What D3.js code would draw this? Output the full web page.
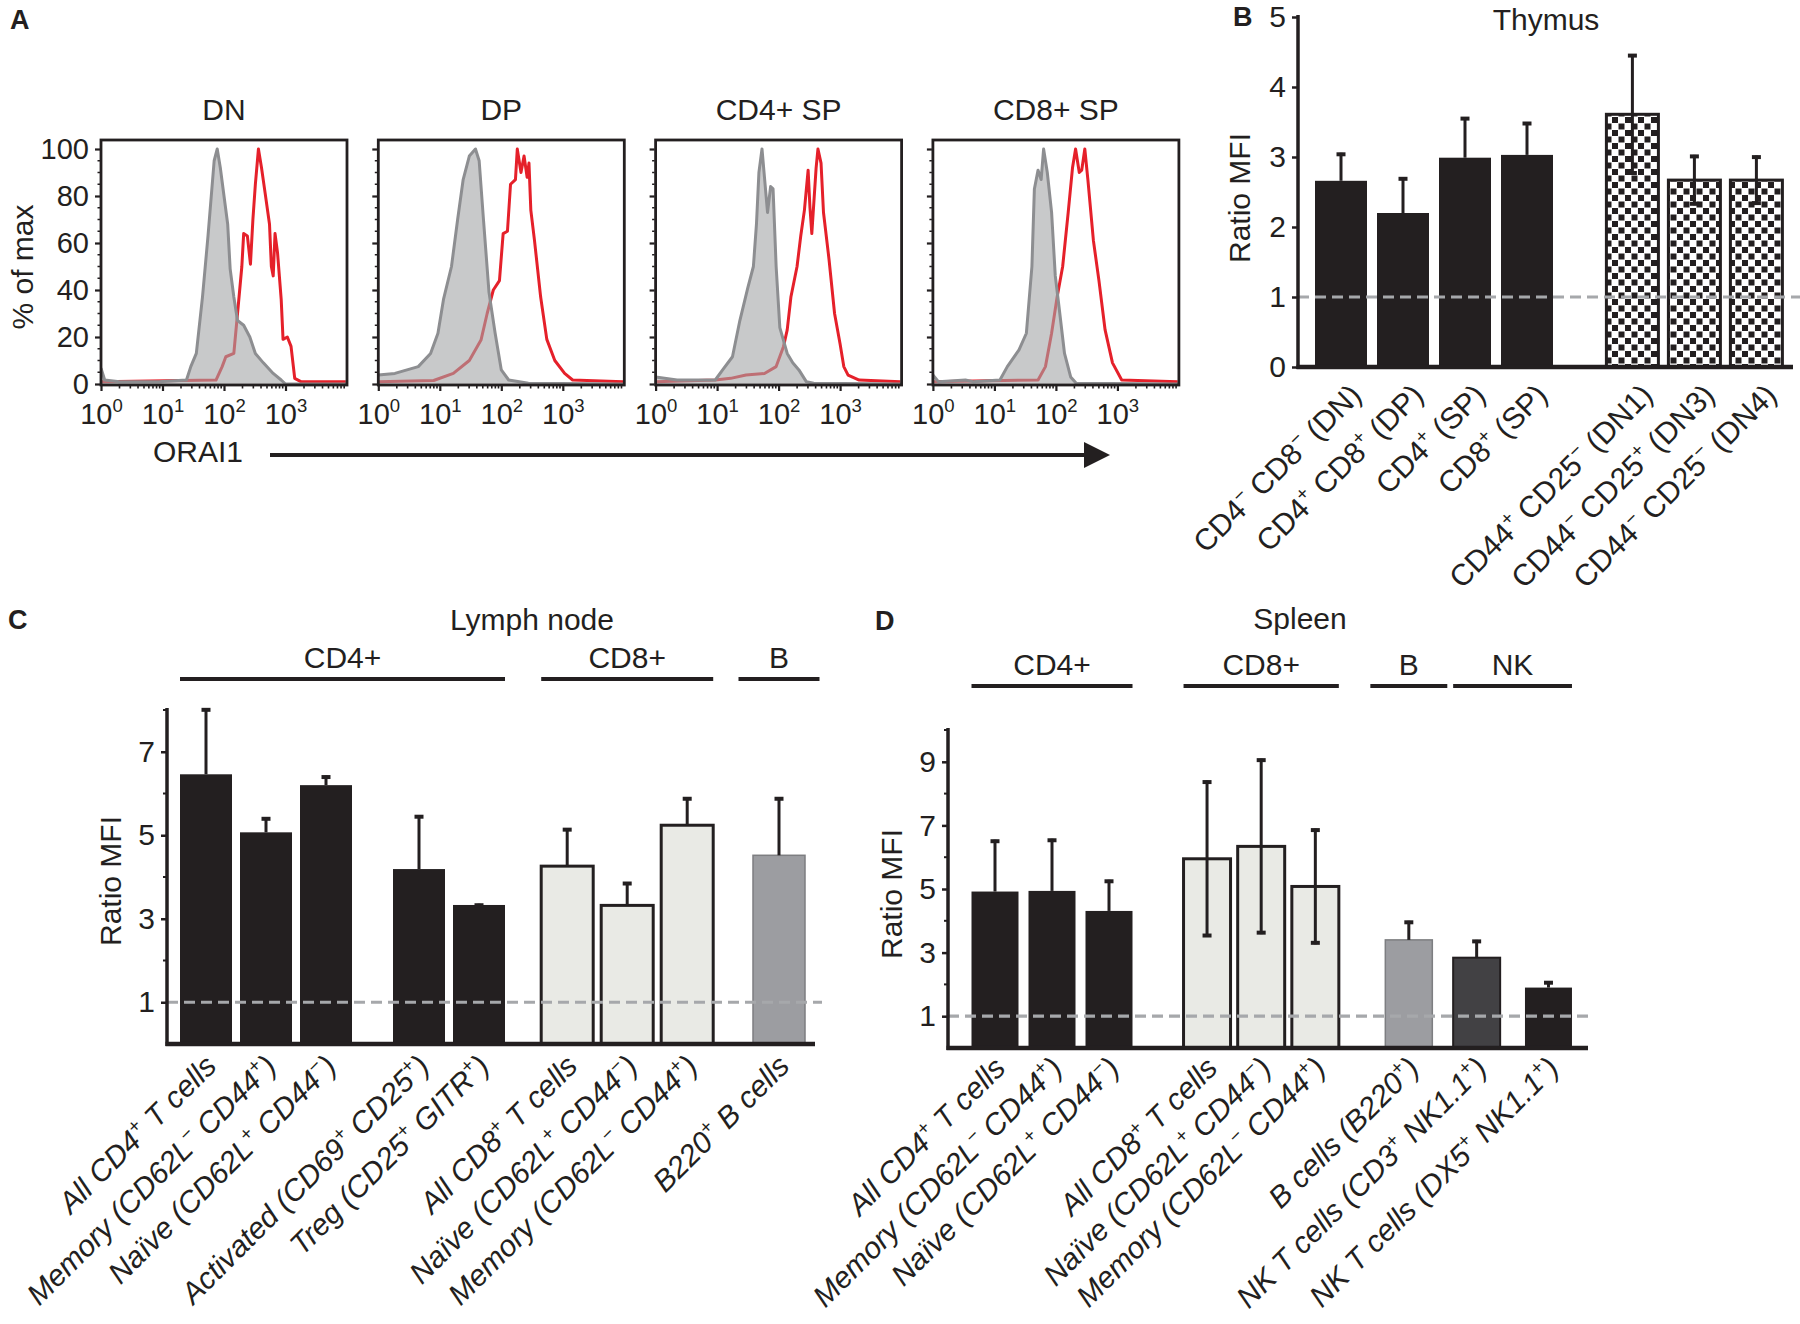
<!DOCTYPE html>
<html><head><meta charset="utf-8">
<script src="https://cdn.jsdelivr.net/npm/d3@7"></script>
<style>
body{margin:0;background:#fff}
svg{display:block;background:#fff}
text{font-family:"Liberation Sans",Arial,Helvetica,sans-serif;fill:#231f20}
</style></head>
<body><svg id="fig" width="1800" height="1324"></svg>
<script>
// ---------------- DATA ----------------
// Panel A: histograms, points = [log10(ORAI1 intensity), % of max]
const histPanels = ["DN", "DP", "CD4+ SP", "CD8+ SP"];
const histYTicks = [0, 20, 40, 60, 80, 100];
const histXTickVals = [1, 10, 100, 1000];
const histXTickLabels = ["10⁰", "10¹", "10²", "10³"];
const isoDN = [[0,6.7],[0.06,1.7],[0.3,1],[0.94,1],[1.39,1.7],[1.46,7.4],[1.55,13],[1.65,37],[1.74,63],[1.84,95],[1.89,100],[1.94,92],[2.0,80],[2.06,68],[2.1,49],[2.16,37],[2.22,27],[2.32,25],[2.42,20],[2.51,13],[2.64,9],[2.8,4.5],[2.93,1.7],[3.0,0],[4,0]];
const orDN = [[0,1],[1.87,1.7],[1.97,7.4],[2.03,11.6],[2.16,13],[2.22,30],[2.29,50],[2.32,64],[2.38,63],[2.43,51],[2.47,70],[2.51,85],[2.56,100],[2.61,92],[2.67,81],[2.74,68],[2.77,50],[2.8,46],[2.83,64],[2.87,56],[2.93,36],[2.96,19],[3.03,20],[3.09,16],[3.15,2.4],[3.25,1],[3.98,1]];
const isoDP = [[0,3.8],[0.27,4.5],[0.65,7.4],[0.85,13],[0.97,21.6],[1.06,36],[1.19,50],[1.29,70],[1.38,87],[1.48,97],[1.58,100],[1.64,95],[1.71,70],[1.8,39],[1.9,21.6],[2.0,6],[2.12,1.7],[2.44,0.3],[4,0]];
const orDP = [[0,1],[0.9,1.5],[1.22,4.5],[1.48,10],[1.67,18.7],[1.77,30],[1.87,40],[1.97,44],[2.03,64],[2.1,65],[2.15,85],[2.23,87],[2.26,100],[2.32,90],[2.37,97],[2.42,88],[2.45,94],[2.48,74],[2.54,61],[2.64,37],[2.74,19],[2.87,10],[3.03,4.5],[3.16,1.7],[3.98,1]];
const isoCD4 = [[0,3],[0.35,1.7],[0.97,1.7],[1.09,6],[1.25,11.6],[1.37,27],[1.5,41],[1.59,50],[1.64,68],[1.68,90],[1.73,100],[1.77,88],[1.82,73],[1.87,84],[1.91,83],[1.96,50],[2.02,24],[2.14,13],[2.23,9],[2.33,6],[2.45,1],[2.57,0.3],[4,0]];
const orCD4 = [[0,1],[0.97,1.7],[1.22,2.4],[1.47,3.8],[1.77,4.5],[1.96,7.4],[2.08,16],[2.14,23],[2.2,37],[2.3,50],[2.36,63],[2.42,74],[2.48,91],[2.51,75],[2.54,64],[2.61,92],[2.64,100],[2.69,94],[2.73,73],[2.82,53],[2.91,30],[3.0,17],[3.06,7.4],[3.13,3.8],[3.31,1.7],[3.98,1]];
const isoCD8 = [[0,3.8],[0.09,1],[0.53,1.7],[0.65,1],[1.09,1.7],[1.21,7.4],[1.4,14.5],[1.52,21.6],[1.61,50],[1.65,83],[1.71,91],[1.76,87],[1.8,100],[1.86,90],[1.93,73],[1.99,46],[2.05,33],[2.14,13],[2.24,3],[2.33,0.3],[4,0]];
const orCD8 = [[0,1],[1.71,1.7],[1.83,7.4],[1.93,21.6],[2.02,37],[2.11,50],[2.2,73],[2.27,92],[2.32,100],[2.38,90],[2.42,91],[2.47,100],[2.52,87],[2.61,61],[2.7,44],[2.8,23],[2.92,9],[3.07,1.7],[3.98,1]];
const isoSeries = [isoDN, isoDP, isoCD4, isoCD8];
const orSeries = [orDN, orDP, orCD4, orCD8];

// Panel B: thymus
const thyCats = ["CD4⁻ CD8⁻ (DN)", "CD4⁺ CD8⁺ (DP)", "CD4⁺ (SP)", "CD8⁺ (SP)", "CD44⁺ CD25⁻ (DN1)", "CD44⁻ CD25⁺ (DN3)", "CD44⁻ CD25⁻ (DN4)"];
const thyVals = [2.66, 2.2, 2.99, 3.03, 3.61, 2.67, 2.67];
const thyErr = [0.40, 0.51, 0.58, 0.47, 0.86, 0.36, 0.35];
const thyType = ["black","black","black","black","checker","checker","checker"];
const thyCluster = [0,0,0,0,1,1,1];
const thyTicks = [0,1,2,3,4,5];

// Panel C: lymph node
const lnCats = ["All CD4⁺ T cells", "Memory (CD62L⁻ CD44⁺)", "Naïve (CD62L⁺ CD44⁻)", "Activated (CD69⁺ CD25⁺)", "Treg (CD25⁺ GITR⁺)", "All CD8⁺ T cells", "Naïve (CD62L⁺ CD44⁻)", "Memory (CD62L⁻ CD44⁺)", "B220⁺ B cells"];
const lnVals = [6.46, 5.07, 6.2, 4.19, 3.33, 4.26, 3.32, 5.24, 4.52];
const lnErr = [1.58, 0.36, 0.23, 1.29, 0.03, 0.91, 0.56, 0.67, 1.39];
const lnType = ["black","black","black","black","black","light","light","light","gray"];
const lnCluster = [0,0,0,1,1,2,2,2,3];
const lnGroups = ["CD4+", "CD8+", "B"];
const lnGroupOf = [0,0,0,0,0,1,1,1,2];
const lnTicks = [1,3,5,7];
const lnMinor = [2,4,6,8];

// Panel D: spleen
const spCats = ["All CD4⁺ T cells", "Memory (CD62L⁻ CD44⁺)", "Naïve (CD62L⁺ CD44⁻)", "All CD8⁺ T cells", "Naïve (CD62L⁺ CD44⁻)", "Memory (CD62L⁻ CD44⁺)", "B cells (B220⁺)", "NK T cells (CD3⁺ NK1.1⁺)", "NK T cells (DX5⁺ NK1.1⁺)"];
const spVals = [4.92, 4.94, 4.31, 5.95, 6.34, 5.08, 3.4, 2.84, 1.9];
const spErr = [1.63, 1.64, 0.98, 2.46, 2.76, 1.82, 0.6, 0.56, 0.2];
const spType = ["black","black","black","light","light","light","gray","dark","black"];
const spCluster = [0,0,0,1,1,1,2,3,3];
const spGroups = ["CD4+", "CD8+", "B", "NK"];
const spGroupOf = [0,0,0,1,1,1,2,3,3];
const spTicks = [1,3,5,7,9];
const spMinor = [2,4,6,8,10];

// ---------------- HELPERS ----------------
const svg = d3.select("#fig");
const INK = "#231f20";
const FONT = 30;

function richText(sel, str, fs) {
  const sup = {"⁺":"+","⁻":"−","⁰":"0","¹":"1","²":"2","³":"3"};
  const parts = []; let cur = ""; let curSup = null;
  for (const ch of str) {
    const s = ch in sup;
    if (curSup !== null && s !== curSup && cur) { parts.push([cur, curSup]); cur = ""; }
    curSup = s; cur += s ? sup[ch] : ch;
  }
  if (cur) parts.push([cur, curSup]);
  let raised = false;
  const shift = fs * 0.4;
  parts.forEach(([t, s]) => {
    const ts = sel.append("tspan").text(t);
    if (s) { ts.attr("font-size", fs * 0.64); if (!raised) ts.attr("dy", -shift); raised = true; }
    else if (raised) { ts.attr("dy", shift); raised = false; }
  });
}

const defs = svg.append("defs");
const CELL = 6.5;
const pat = defs.append("pattern").attr("id","checker").attr("patternUnits","userSpaceOnUse")
  .attr("width",CELL*2).attr("height",CELL*2);
pat.append("rect").attr("width",CELL*2).attr("height",CELL*2).attr("fill","#fff");
pat.append("rect").attr("width",CELL-0.5).attr("height",CELL-0.5).attr("fill",INK);
pat.append("rect").attr("x",CELL).attr("y",CELL).attr("width",CELL-0.5).attr("height",CELL-0.5).attr("fill",INK);

function letter(t, x, y) {
  svg.append("text").attr("x",x).attr("y",y).attr("font-size",27).attr("font-weight","bold").text(t);
}

// ---------------- PANEL A ----------------
letter("A", 10, 29);
const boxW = 246, boxStep = 277.3, boxLeft0 = 101, boxTop = 140, boxBottom = 385;
const yH = d3.scaleLinear().domain([0, 100]).range([384, 149]);
histPanels.forEach((name, i) => {
  const x0 = boxLeft0 + i * boxStep;
  const xS = d3.scaleLog().domain([1, 1e4]).range([x0, x0 + boxW]);
  const g = svg.append("g");
  const clipId = "clip" + i;
  defs.append("clipPath").attr("id", clipId).append("rect")
    .attr("x", x0).attr("y", boxTop).attr("width", boxW).attr("height", boxBottom - boxTop);
  const inner = g.append("g").attr("clip-path", `url(#${clipId})`);
  inner.append("path").datum(orSeries[i])
    .attr("d", d3.line().x(d => xS(Math.pow(10, d[0]))).y(d => yH(d[1])))
    .attr("fill","none").attr("stroke","#e5202a").attr("stroke-width",3).attr("stroke-linejoin","round");
  inner.append("path").datum(isoSeries[i])
    .attr("d", d3.area().x(d => xS(Math.pow(10, d[0]))).y0(yH(0)).y1(d => yH(d[1])))
    .attr("fill","#a3a5a7").attr("fill-opacity",0.6);
  inner.append("path").datum(isoSeries[i])
    .attr("d", d3.line().x(d => xS(Math.pow(10, d[0]))).y(d => yH(d[1])))
    .attr("fill","none").attr("stroke","#8d8e91").attr("stroke-width",3).attr("stroke-linejoin","round");
  g.append("rect").attr("x", x0).attr("y", boxTop).attr("width", boxW).attr("height", boxBottom - boxTop)
    .attr("fill","none").attr("stroke",INK).attr("stroke-width",2.8);
  g.append("text").attr("x", x0 + boxW / 2).attr("y", 120).attr("text-anchor","middle")
    .attr("font-size", FONT).text(name);
  const ya = g.append("g").attr("transform", `translate(${x0 - 1},0)`)
    .call(d3.axisLeft(yH).tickValues(histYTicks).tickSize(5).tickPadding(6)
      .tickFormat(i === 0 ? d3.format("d") : () => ""));
  ya.select(".domain").remove();
  ya.selectAll(".tick line").attr("stroke",INK).attr("stroke-width",2.2);
  ya.selectAll(".tick text").attr("font-size",29).attr("font-family",null).attr("fill",INK);
  const minorY = d3.range(5, 100, 5).filter(v => v % 20 !== 0);
  g.selectAll(null).data(minorY).join("line")
    .attr("x1", x0 - 3.5).attr("x2", x0 - 1).attr("y1", d => yH(d)).attr("y2", d => yH(d))
    .attr("stroke",INK).attr("stroke-width",1.5);
  const xa = g.append("g").attr("transform", `translate(0,${boxBottom})`)
    .call(d3.axisBottom(xS).tickValues(histXTickVals).tickSize(6).tickFormat((d, k) => histXTickLabels[k]));
  xa.select(".domain").remove();
  xa.selectAll(".tick line").attr("stroke",INK).attr("stroke-width",2.2);
  xa.selectAll(".tick text").each(function() {
    const t = d3.select(this); const s = t.text(); t.text("");
    t.attr("dy", null).attr("y", 39).attr("font-size", 29).attr("font-family",null).attr("fill",INK);
    richText(t, s, 29);
  });
  const minorX = [];
  [1, 10, 100, 1000].forEach(dec => { for (let m = 2; m <= 9; m++) minorX.push(dec * m); });
  g.selectAll(null).data(minorX).join("line")
    .attr("x1", d => xS(d)).attr("x2", d => xS(d)).attr("y1", boxBottom).attr("y2", boxBottom + 3.5)
    .attr("stroke",INK).attr("stroke-width",1.6);
});
svg.append("text").attr("transform","translate(33,267) rotate(-90)").attr("text-anchor","middle")
  .attr("font-size",FONT).text("% of max");
svg.append("text").attr("x",198).attr("y",462).attr("text-anchor","middle").attr("font-size",FONT).text("ORAI1");
svg.append("line").attr("x1",270).attr("x2",1090).attr("y1",455).attr("y2",455)
  .attr("stroke",INK).attr("stroke-width",4);
svg.append("path").attr("d","M1084,442 L1110,455 L1084,468 Z").attr("fill",INK);

// ---------------- BAR PANELS ----------------
const fills = {black: INK, light: "#e9eae5", gray: "#9c9da1", dark: "#424144", checker: "url(#checker)"};
const strokes = {black: "none", light: INK, gray: "#7d7e81", dark: INK, checker: INK};
const strokeW = {black: 0, light: 3, gray: 1.5, dark: 2, checker: 3};

// slot positions: bars within a cluster are `spread` slots apart, clusters separated by extra `gaps`
function slotPositions(cluster, gaps, spread) {
  const pos = []; let cur = 0;
  cluster.forEach((c, i) => {
    if (i > 0) cur += (c !== cluster[i - 1]) ? (1 + gaps[cluster[i - 1]]) : spread[c];
    pos.push(cur);
  });
  return pos;
}

function barPanel(p) {
  const g = svg.append("g");
  const y = d3.scaleLinear().domain(p.yDomain).range(p.yRange);
  const pos = slotPositions(p.cluster, p.gaps, p.spread);
  const x = d3.scaleLinear().domain([0, 1]).range([p.firstCenter, p.firstCenter + p.slot]);
  const axisY = p.yRange[0];

  g.selectAll("rect.bar").data(p.vals).join("rect").attr("class","bar")
    .attr("x", (d, i) => x(pos[i]) - p.barW / 2).attr("width", p.barW)
    .attr("y", d => y(d)).attr("height", d => axisY - y(d))
    .attr("fill", (d, i) => fills[p.types[i]])
    .attr("stroke", (d, i) => strokes[p.types[i]])
    .attr("stroke-width", (d, i) => strokeW[p.types[i]]);

  g.append("line").attr("x1", p.axisX).attr("x2", p.dashEnd).attr("y1", y(1)).attr("y2", y(1))
    .attr("stroke","#a6a8ab").attr("stroke-width",3.2).attr("stroke-dasharray","11,6");

  p.vals.forEach((v, i) => {
    const cx = x(pos[i]);
    const two = p.twoSided && (p.types[i] === "light" || p.types[i] === "checker");
    const top = y(v + p.errs[i]);
    const bot = two ? y(v - p.errs[i]) : y(v);
    g.append("line").attr("x1",cx).attr("x2",cx).attr("y1",top).attr("y2",bot)
      .attr("stroke",INK).attr("stroke-width",3);
    g.append("line").attr("x1",cx-4.5).attr("x2",cx+4.5).attr("y1",top+1.5).attr("y2",top+1.5)
      .attr("stroke",INK).attr("stroke-width",4);
    if (two) g.append("line").attr("x1",cx-4.5).attr("x2",cx+4.5).attr("y1",bot-1.5).attr("y2",bot-1.5)
      .attr("stroke",INK).attr("stroke-width",4);
  });

  g.append("line").attr("x1", p.axisX).attr("x2", p.axisX).attr("y1", axisY + 2).attr("y2", p.axisTop)
    .attr("stroke",INK).attr("stroke-width",3.5);
  g.append("line").attr("x1", p.axisX - 1.5).attr("x2", p.axisRight).attr("y1", axisY).attr("y2", axisY)
    .attr("stroke",INK).attr("stroke-width",4.5);
  const ya = g.append("g").attr("transform", `translate(${p.axisX},0)`)
    .call(d3.axisLeft(y).tickValues(p.ticks).tickSize(6).tickPadding(6).tickFormat(d3.format("d")));
  ya.select(".domain").remove();
  ya.selectAll(".tick line").attr("stroke",INK).attr("stroke-width",2.5);
  ya.selectAll(".tick text").attr("font-size",FONT).attr("font-family",null).attr("fill",INK);
  if (p.minor) g.selectAll(null).data(p.minor).join("line")
    .attr("x1", p.axisX - 4).attr("x2", p.axisX).attr("y1", d => y(d)).attr("y2", d => y(d))
    .attr("stroke",INK).attr("stroke-width",2);

  p.cats.forEach((c, i) => {
    const t = g.append("text")
      .attr("transform", `translate(${x(pos[i]) + p.ldx},${axisY + p.ldy}) rotate(-45)`)
      .attr("text-anchor","end").attr("font-size",FONT)
      .attr("font-style", p.italic ? "italic" : null);
    richText(t, c, FONT);
  });

  if (p.groups) {
    p.groups.forEach((name, gi) => {
      const idx = p.groupOf.map((v, i) => v === gi ? i : -1).filter(i => i >= 0);
      let l = x(pos[idx[0]]) - p.barW / 2, r = x(pos[idx[idx.length - 1]]) + p.barW / 2;
      const minW = p.slot * 1.35;
      if (r - l < minW) { const c = (l + r) / 2; l = c - minW / 2; r = c + minW / 2; }
      g.append("line").attr("x1", l).attr("x2", r).attr("y1", p.headerLineY).attr("y2", p.headerLineY)
        .attr("stroke",INK).attr("stroke-width",4);
      g.append("text").attr("x", (l + r) / 2).attr("y", p.headerY).attr("text-anchor","middle")
        .attr("font-size",FONT).text(name);
    });
  }
  g.append("text").attr("x", p.titleX).attr("y", p.titleY).attr("text-anchor","middle")
    .attr("font-size",FONT).text(p.title);
  g.append("text").attr("transform", `translate(${p.yTitleX},${p.yTitleY}) rotate(-90)`)
    .attr("text-anchor","middle").attr("font-size",FONT).text("Ratio MFI");
}

letter("B", 1233, 26);
barPanel({cats: thyCats, vals: thyVals, errs: thyErr, types: thyType, cluster: thyCluster,
  yDomain: [0, 5], yRange: [367, 17], axisTop: 15, axisX: 1298, axisRight: 1793, dashEnd: 1800,
  ticks: thyTicks, firstCenter: 1341, slot: 62, gaps: [0.7, 0], spread: [1, 1], barW: 52, twoSided: true,
  ldx: 22, ldy: 30, italic: false, title: "Thymus", titleX: 1546, titleY: 30,
  yTitleX: 1250, yTitleY: 198});

letter("C", 8, 629);
barPanel({cats: lnCats, vals: lnVals, errs: lnErr, types: lnType, cluster: lnCluster,
  yDomain: [0, 8], yRange: [1044, 710], axisTop: 708, axisX: 167, axisRight: 815, dashEnd: 822,
  ticks: lnTicks, minor: lnMinor, firstCenter: 206, slot: 60, gaps: [0.55, 0.47, 0.53, 0], spread: [1, 1, 1, 1],
  barW: 52, twoSided: false,
  ldx: 12, ldy: 24, italic: true, title: "Lymph node", titleX: 532, titleY: 630,
  yTitleX: 121, yTitleY: 881, groups: lnGroups, groupOf: lnGroupOf, headerY: 668, headerLineY: 679});

letter("D", 875, 630);
barPanel({cats: spCats, vals: spVals, errs: spErr, types: spType, cluster: spCluster,
  yDomain: [0, 10], yRange: [1048, 730], axisTop: 728, axisX: 948, axisRight: 1588, dashEnd: 1590,
  ticks: spTicks, minor: spMinor, firstCenter: 995, slot: 57, gaps: [0.72, 0.64, 0.19, 0], spread: [1, 0.95, 1, 1.26],
  barW: 47, twoSided: true,
  ldx: 12, ldy: 22, italic: true, title: "Spleen", titleX: 1300, titleY: 629,
  yTitleX: 902, yTitleY: 894, groups: spGroups, groupOf: spGroupOf, headerY: 675, headerLineY: 686});
</script></body></html>
